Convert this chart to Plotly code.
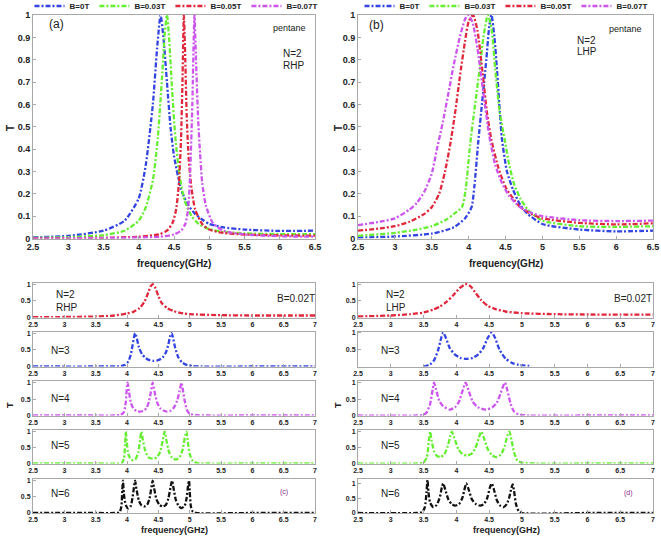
import plotly.graph_objects as go

W, H = 661, 538

# ---------------- data ----------------
series_labels = ["B=0T", "B=0.03T", "B=0.05T", "B=0.07T"]
series_colors = ["#3344e0", "#66ee33", "#e0283c", "#cc55ee"]

# panel (a): RHP, N=2, pentane
a_f_b0 = [2.5, 3.0, 3.5, 3.8, 4.0, 4.1, 4.2, 4.26, 4.31, 4.35, 4.4, 4.45, 4.5, 4.6, 4.7, 4.8, 4.9, 5.0, 5.2, 5.5, 6.0, 6.5]
a_t_b0 = [0.005, 0.012, 0.035, 0.08, 0.18, 0.33, 0.6, 0.85, 1.0, 0.9, 0.7, 0.5, 0.37, 0.22, 0.15, 0.11, 0.085, 0.065, 0.05, 0.04, 0.034, 0.035]
a_f_b3 = [2.5, 3.0, 3.5, 3.8, 4.0, 4.1, 4.2, 4.27, 4.33, 4.37, 4.40, 4.43, 4.47, 4.52, 4.58, 4.65, 4.75, 4.85, 5.0, 5.2, 5.5, 6.0, 6.5]
a_t_b3 = [0.003, 0.006, 0.015, 0.035, 0.08, 0.14, 0.26, 0.45, 0.72, 0.92, 1.0, 0.9, 0.68, 0.45, 0.28, 0.17, 0.1, 0.065, 0.042, 0.03, 0.023, 0.02, 0.02]
a_f_b5 = [2.5, 3.5, 4.0, 4.3, 4.4, 4.48, 4.53, 4.57, 4.6, 4.62, 4.64, 4.66, 4.68, 4.71, 4.75, 4.8, 4.9, 5.0, 5.2, 5.5, 6.0, 6.5]
a_t_b5 = [0.001, 0.003, 0.008, 0.02, 0.035, 0.07, 0.13, 0.25, 0.45, 0.7, 1.0, 0.8, 0.55, 0.35, 0.22, 0.13, 0.065, 0.04, 0.025, 0.018, 0.014, 0.013]
a_f_b7 = [2.5, 3.5, 4.0, 4.3, 4.5, 4.6, 4.66, 4.7, 4.73, 4.76, 4.79, 4.81, 4.84, 4.87, 4.9, 4.95, 5.05, 5.2, 5.5, 6.0, 6.5]
a_t_b7 = [0.0, 0.002, 0.004, 0.008, 0.018, 0.035, 0.065, 0.13, 0.3, 0.6, 1.0, 0.82, 0.55, 0.38, 0.25, 0.15, 0.07, 0.035, 0.018, 0.01, 0.008]

# panel (b): LHP, N=2, pentane
b_f_b0 = [2.5, 3.0, 3.5, 3.8, 3.95, 4.04, 4.08, 4.13, 4.18, 4.24, 4.28, 4.31, 4.35, 4.39, 4.45, 4.52, 4.6, 4.7, 4.8, 5.0, 5.5, 6.0, 6.5]
b_t_b0 = [0.004, 0.009, 0.022, 0.05, 0.09, 0.14, 0.24, 0.43, 0.6, 0.8, 0.95, 1.0, 0.9, 0.73, 0.45, 0.3, 0.22, 0.15, 0.11, 0.065, 0.04, 0.032, 0.035]
b_f_b3 = [2.5, 3.0, 3.3, 3.5, 3.7, 3.8, 3.91, 3.96, 4.02, 4.08, 4.15, 4.2, 4.26, 4.31, 4.36, 4.42, 4.49, 4.55, 4.62, 4.7, 4.8, 5.0, 5.5, 6.0, 6.5]
b_t_b3 = [0.012, 0.025, 0.04, 0.055, 0.085, 0.11, 0.14, 0.22, 0.42, 0.58, 0.76, 0.9, 1.0, 0.94, 0.76, 0.57, 0.44, 0.33, 0.24, 0.18, 0.13, 0.08, 0.055, 0.052, 0.055]
b_f_b5 = [2.5, 2.8, 3.0, 3.2, 3.4, 3.5, 3.6, 3.68, 3.75, 3.82, 3.88, 3.95, 4.0, 4.06, 4.12, 4.19, 4.25, 4.31, 4.4, 4.5, 4.6, 4.7, 4.85, 5.0, 5.5, 6.0, 6.5]
b_t_b5 = [0.035, 0.045, 0.055, 0.075, 0.11, 0.14, 0.2, 0.3, 0.42, 0.57, 0.72, 0.88, 0.97, 1.0, 0.93, 0.74, 0.56, 0.44, 0.32, 0.23, 0.18, 0.14, 0.11, 0.09, 0.07, 0.063, 0.068]
b_f_b7 = [2.5, 2.8, 3.0, 3.2, 3.3, 3.4, 3.5, 3.57, 3.65, 3.72, 3.8, 3.88, 3.95, 3.99, 4.05, 4.12, 4.2, 4.28, 4.36, 4.45, 4.55, 4.7, 4.85, 5.0, 5.5, 6.0, 6.5]
b_t_b7 = [0.06, 0.075, 0.09, 0.13, 0.16, 0.21, 0.29, 0.4, 0.52, 0.64, 0.78, 0.9, 0.98, 1.0, 0.97, 0.85, 0.65, 0.46, 0.33, 0.25, 0.19, 0.14, 0.115, 0.1, 0.082, 0.078, 0.08]

# panel (c): RHP, B=0.02T, N=2..6
c_f_n2 = [2.5, 3.0, 3.5, 3.8, 4.0, 4.1, 4.2, 4.28, 4.34, 4.38, 4.41, 4.45, 4.5, 4.56, 4.65, 4.75, 4.9, 5.0, 5.5, 6.0, 6.5, 7.0]
c_t_n2 = [0.01, 0.015, 0.03, 0.06, 0.12, 0.17, 0.28, 0.48, 0.75, 0.94, 1.0, 0.9, 0.65, 0.42, 0.27, 0.19, 0.12, 0.1, 0.07, 0.06, 0.06, 0.06]
c_f_n3 = [2.5, 3.5, 3.9, 3.97, 4.02, 4.06, 4.09, 4.12, 4.13, 4.15, 4.19, 4.24, 4.3, 4.36, 4.42, 4.5, 4.57, 4.62, 4.66, 4.69, 4.71, 4.73, 4.77, 4.82, 4.88, 4.95, 5.05, 5.2, 6.0, 7.0]
c_t_n3 = [0.0, 0.0, 0.01, 0.05, 0.15, 0.35, 0.65, 0.95, 1.0, 0.9, 0.58, 0.37, 0.25, 0.19, 0.17, 0.19, 0.27, 0.42, 0.66, 0.92, 1.0, 0.9, 0.55, 0.27, 0.12, 0.05, 0.015, 0.0, 0.0, 0.0]
c_f_n4 = [2.5, 3.5, 3.8, 3.9, 3.95, 3.98, 4.0, 4.01, 4.03, 4.06, 4.1, 4.15, 4.2, 4.26, 4.31, 4.35, 4.38, 4.41, 4.44, 4.48, 4.53, 4.58, 4.64, 4.7, 4.75, 4.8, 4.84, 4.87, 4.89, 4.92, 4.96, 5.0, 5.1, 5.3, 6.0, 7.0]
c_t_n4 = [0.0, 0.0, 0.0, 0.02, 0.1, 0.4, 0.9, 1.0, 0.75, 0.4, 0.22, 0.14, 0.12, 0.14, 0.22, 0.42, 0.7, 1.0, 0.72, 0.4, 0.22, 0.15, 0.12, 0.15, 0.25, 0.45, 0.75, 1.0, 0.8, 0.45, 0.15, 0.05, 0.01, 0.0, 0.0, 0.0]
c_f_n5 = [2.5, 3.5, 3.85, 3.92, 3.95, 3.97, 3.98, 3.995, 4.02, 4.06, 4.1, 4.14, 4.18, 4.21, 4.23, 4.25, 4.29, 4.34, 4.41, 4.48, 4.53, 4.57, 4.6, 4.63, 4.67, 4.72, 4.78, 4.84, 4.89, 4.93, 4.95, 4.97, 5.0, 5.05, 5.12, 5.3, 6.0, 7.0]
c_t_n5 = [0.0, 0.0, 0.0, 0.02, 0.15, 0.6, 1.0, 0.7, 0.3, 0.13, 0.1, 0.15, 0.35, 0.75, 1.0, 0.78, 0.4, 0.2, 0.15, 0.2, 0.38, 0.72, 1.0, 0.72, 0.36, 0.18, 0.12, 0.2, 0.45, 0.9, 1.0, 0.7, 0.3, 0.08, 0.01, 0.0, 0.0, 0.0]
c_f_n6 = [2.5, 3.5, 3.8, 3.88, 3.91, 3.925, 3.935, 3.95, 3.98, 4.02, 4.06, 4.09, 4.12, 4.13, 4.15, 4.19, 4.23, 4.27, 4.32, 4.36, 4.39, 4.41, 4.43, 4.47, 4.52, 4.57, 4.62, 4.66, 4.7, 4.72, 4.74, 4.78, 4.83, 4.87, 4.92, 4.95, 4.975, 4.99, 5.0, 5.02, 5.05, 5.1, 6.0, 7.0]
c_t_n6 = [0.0, 0.0, 0.0, 0.02, 0.2, 0.7, 1.0, 0.6, 0.25, 0.14, 0.22, 0.5, 0.92, 1.0, 0.75, 0.38, 0.24, 0.2, 0.25, 0.45, 0.8, 1.0, 0.8, 0.42, 0.25, 0.2, 0.25, 0.45, 0.85, 1.0, 0.8, 0.4, 0.2, 0.15, 0.22, 0.45, 0.85, 1.0, 0.7, 0.2, 0.04, 0.0, 0.0, 0.0]

# panel (d): LHP, B=0.02T, N=2..6
d_f_n2 = [2.5, 3.0, 3.3, 3.5, 3.65, 3.75, 3.85, 3.95, 4.05, 4.12, 4.16, 4.22, 4.3, 4.38, 4.48, 4.6, 4.75, 5.0, 5.5, 6.0, 6.5, 7.0]
d_t_n2 = [0.03, 0.06, 0.1, 0.15, 0.24, 0.33, 0.47, 0.66, 0.88, 0.98, 1.0, 0.93, 0.72, 0.52, 0.35, 0.25, 0.18, 0.13, 0.1, 0.09, 0.085, 0.085]
d_f_n3 = [3.5, 3.6, 3.66, 3.72, 3.77, 3.8, 3.84, 3.9, 3.98, 4.06, 4.15, 4.25, 4.33, 4.41, 4.48, 4.54, 4.59, 4.66, 4.75, 4.85, 4.95, 5.05, 5.15]
d_t_n3 = [0.02, 0.08, 0.2, 0.48, 0.85, 1.0, 0.85, 0.55, 0.36, 0.27, 0.24, 0.27, 0.36, 0.55, 0.85, 1.0, 0.85, 0.5, 0.25, 0.12, 0.07, 0.045, 0.035]
d_f_n4 = [2.5, 3.4, 3.5, 3.55, 3.6, 3.64, 3.66, 3.69, 3.74, 3.8, 3.9, 3.98, 4.04, 4.09, 4.14, 4.19, 4.25, 4.33, 4.45, 4.55, 4.62, 4.68, 4.74, 4.78, 4.83, 4.88, 4.95, 5.1, 6.0, 7.0]
d_t_n4 = [0.0, 0.0, 0.02, 0.1, 0.35, 0.8, 1.0, 0.8, 0.45, 0.28, 0.18, 0.25, 0.42, 0.72, 1.0, 0.75, 0.42, 0.25, 0.18, 0.25, 0.4, 0.7, 1.0, 0.75, 0.35, 0.12, 0.03, 0.0, 0.0, 0.0]
d_f_n5 = [2.5, 3.4, 3.5, 3.55, 3.58, 3.6, 3.62, 3.66, 3.7, 3.76, 3.82, 3.87, 3.91, 3.93, 3.97, 4.03, 4.09, 4.16, 4.23, 4.29, 4.34, 4.38, 4.42, 4.48, 4.54, 4.61, 4.68, 4.74, 4.78, 4.81, 4.84, 4.88, 4.93, 5.0, 5.2, 6.0, 7.0]
d_t_n5 = [0.0, 0.0, 0.03, 0.2, 0.7, 1.0, 0.75, 0.38, 0.25, 0.2, 0.3, 0.55, 0.88, 1.0, 0.8, 0.45, 0.3, 0.25, 0.3, 0.48, 0.78, 1.0, 0.8, 0.45, 0.27, 0.2, 0.28, 0.55, 0.88, 1.0, 0.75, 0.35, 0.1, 0.02, 0.0, 0.0, 0.0]
d_f_n6 = [2.5, 3.4, 3.48, 3.52, 3.545, 3.56, 3.575, 3.6, 3.65, 3.7, 3.75, 3.78, 3.8, 3.83, 3.88, 3.93, 3.98, 4.04, 4.09, 4.13, 4.15, 4.18, 4.24, 4.3, 4.36, 4.42, 4.47, 4.51, 4.54, 4.57, 4.62, 4.67, 4.72, 4.77, 4.81, 4.84, 4.86, 4.88, 4.91, 4.95, 5.0, 6.0, 7.0]
d_t_n6 = [0.0, 0.0, 0.03, 0.2, 0.7, 1.12, 0.7, 0.35, 0.2, 0.27, 0.55, 0.88, 1.0, 0.8, 0.45, 0.3, 0.25, 0.3, 0.5, 0.85, 1.0, 0.85, 0.45, 0.3, 0.25, 0.3, 0.5, 0.85, 1.0, 0.82, 0.42, 0.25, 0.2, 0.3, 0.55, 0.85, 0.97, 0.75, 0.3, 0.07, 0.0, 0.0, 0.0]

n_labels = ["N=2", "N=3", "N=4", "N=5", "N=6"]
n_colors = ["#e0283c", "#3344e0", "#cc55ee", "#66ee33", "#111111"]

top_xticks = [2.5, 3, 3.5, 4, 4.5, 5, 5.5, 6, 6.5]
top_yticks = [0, 0.1, 0.2, 0.3, 0.4, 0.5, 0.6, 0.7, 0.8, 0.9, 1]
bot_xticks = [2.5, 3, 3.5, 4, 4.5, 5, 5.5, 6, 6.5, 7]
bot_yticks = [0, 0.5, 1]

# ---------------- layout helpers ----------------
def xd(x0, x1):
    return [x0 / W, x1 / W]

def yd(top, bottom):
    return [1 - bottom / H, 1 - top / H]

DASH = "5px,2px,2px,2px"
LW = 2.3
AXC = "#a8a8a8"
FONT = "Liberation Sans, Arial, sans-serif"

fig = go.Figure()

def add_curve(f, t, color, ax, name=None, legend=None, show=False):
    fig.add_trace(go.Scatter(
        x=f, y=t, mode="lines", name=name,
        line=dict(color=color, width=LW, dash=DASH, shape="spline", smoothing=0.6),
        xaxis="x" + ("" if ax == 1 else str(ax)),
        yaxis="y" + ("" if ax == 1 else str(ax)),
        showlegend=show, legend=legend if legend else "legend",
    ))

top_a = [(a_f_b0, a_t_b0), (a_f_b3, a_t_b3), (a_f_b5, a_t_b5), (a_f_b7, a_t_b7)]
top_b = [(b_f_b0, b_t_b0), (b_f_b3, b_t_b3), (b_f_b5, b_t_b5), (b_f_b7, b_t_b7)]
for i, (f, t) in enumerate(top_a):
    add_curve(f, t, series_colors[i], 1, series_labels[i], "legend", True)
for i, (f, t) in enumerate(top_b):
    add_curve(f, t, series_colors[i], 2, series_labels[i], "legend2", True)

bot_c = [(c_f_n2, c_t_n2), (c_f_n3, c_t_n3), (c_f_n4, c_t_n4), (c_f_n5, c_t_n5), (c_f_n6, c_t_n6)]
bot_d = [(d_f_n2, d_t_n2), (d_f_n3, d_t_n3), (d_f_n4, d_t_n4), (d_f_n5, d_t_n5), (d_f_n6, d_t_n6)]
for i, (f, t) in enumerate(bot_c):
    add_curve(f, t, n_colors[i], 3 + i)
for i, (f, t) in enumerate(bot_d):
    add_curve(f, t, n_colors[i], 8 + i)

def axstyle(domain, rng, tickvals, size, anchor, fmt=None):
    d = dict(domain=domain, range=rng, tickvals=tickvals, anchor=anchor,
             showline=True, mirror=True, linecolor=AXC, linewidth=1,
             ticks="inside", ticklen=3, tickcolor=AXC, showgrid=False, zeroline=False,
             automargin=False,
             tickfont=dict(family=FONT, size=size, color="#222", weight="bold"))
    if fmt is not None:
        d["ticktext"] = fmt
    return d

def lab(v):
    return [("%g" % x) for x in v]

layout = dict(width=W, height=H, margin=dict(l=0, r=0, t=0, b=0, autoexpand=False),
              plot_bgcolor="white", paper_bgcolor="white", font=dict(family=FONT))

LX = xd(33, 315)
RX = xd(358, 653)
TOPY = yd(15, 238.5)
layout["xaxis"] = axstyle(LX, [2.5, 6.5], top_xticks, 9, "y", lab(top_xticks))
layout["yaxis"] = axstyle(TOPY, [0, 1], top_yticks, 9, "x", lab(top_yticks))
layout["xaxis2"] = axstyle(RX, [2.5, 6.5], top_xticks, 9, "y2", lab(top_xticks))
layout["yaxis2"] = axstyle(TOPY, [0, 1], top_yticks, 9, "x2", lab(top_yticks))

rows = [(282.5, 317.5), (331.5, 366.5), (381, 415.5), (430, 463.5), (479, 513)]
left_ranges = [[0, 1.05]] * 5
right_ranges = [[0, 1.05], [0.02, 1.03], [0, 1.05], [0, 1.05], [0, 1.15]]
for i, (tp, bt) in enumerate(rows):
    k = 3 + i
    layout["xaxis%d" % k] = axstyle(LX, [2.5, 7], bot_xticks, 7, "y%d" % k, lab(bot_xticks))
    layout["yaxis%d" % k] = axstyle(yd(tp, bt), left_ranges[i], bot_yticks, 7, "x%d" % k, lab(bot_yticks))
    k2 = 8 + i
    layout["xaxis%d" % k2] = axstyle(RX, [2.5, 7], bot_xticks, 7, "y%d" % k2, lab(bot_xticks))
    layout["yaxis%d" % k2] = axstyle(yd(tp, bt), right_ranges[i], bot_yticks, 7, "x%d" % k2, lab(bot_yticks))

legend_common = dict(orientation="h", yanchor="middle", xanchor="center", y=1 - 6 / H,
                     bgcolor="rgba(0,0,0,0)", itemwidth=30, tracegroupgap=0,
                     font=dict(family=FONT, size=8, color="#222", weight="bold"))
layout["legend"] = dict(legend_common, x=176 / W)
layout["legend2"] = dict(legend_common, x=506 / W)

anns = []
def ann(xp, yp, text, size=10, color="#222", bold=False, angle=0, xanchor="center"):
    anns.append(dict(x=xp / W, y=1 - yp / H, xref="paper", yref="paper", text=text,
                     showarrow=False, textangle=angle, xanchor=xanchor, yanchor="middle",
                     font=dict(family=FONT, size=size, color=color, weight="bold" if bold else "normal")))

# axis titles
for xp in (10, 338):
    ann(xp, 128, "T", 10, bold=True, angle=-90)
    ann(xp, 405, "T", 9, bold=True, angle=-90)
for xc in (174, 506):
    ann(xc, 263, "frequency(GHz)", 10, bold=True)
    ann(xc, 530, "frequency(GHz)", 9, bold=True)

# panel texts
ann(56, 24, "(a)", 12)
ann(289, 28, "pentane", 9)
ann(281, 53, "N=2", 10, xanchor="left")
ann(281, 65, "RHP", 10, xanchor="left")
ann(376, 25, "(b)", 12)
ann(625, 29, "pentane", 9)
ann(575, 40, "N=2", 10, xanchor="left")
ann(575, 52, "LHP", 10, xanchor="left")

ann(54, 294, "N=2", 10, xanchor="left")
ann(54, 307, "RHP", 10, xanchor="left")
ann(296, 298, "B=0.02T", 10)
ann(384, 294, "N=2", 10, xanchor="left")
ann(384, 307, "LHP", 10, xanchor="left")
ann(633, 298, "B=0.02T", 10)
ny = [None, 350, 398, 445, 493]
for i in range(1, 5):
    ann(49, ny[i], n_labels[i], 10, xanchor="left")
    ann(379, ny[i], n_labels[i], 10, xanchor="left")
ann(284, 492, "(c)", 7, color="#8a2a8a")
ann(628, 493, "(d)", 7, color="#8a2a8a")

layout["annotations"] = anns
fig.update_layout(**layout)
fig.write_html("out.html", config={"displayModeBar": False},
               post_script="document.body.style.margin='0';document.body.style.overflow='hidden';")
